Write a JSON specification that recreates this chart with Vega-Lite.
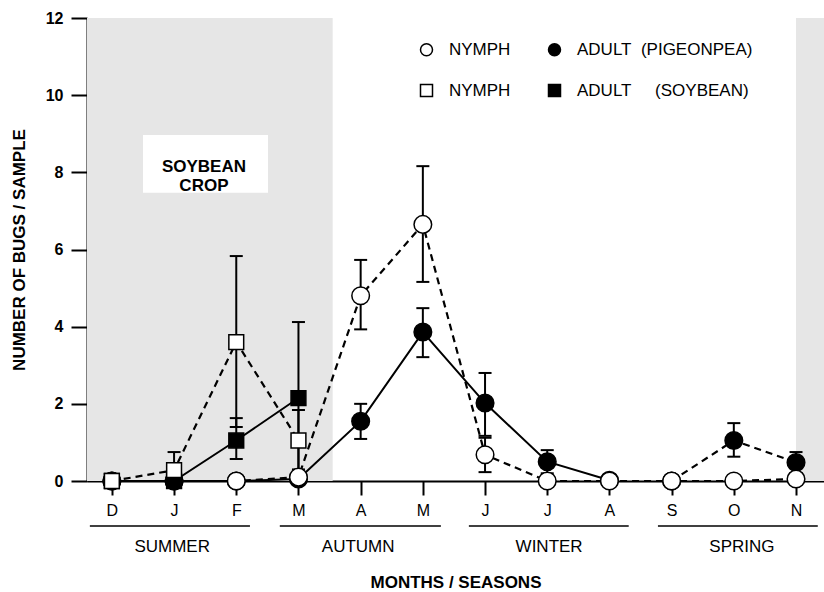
{
  "$schema": "https://vega.github.io/schema/vega-lite/v6.json",
  "width": 737,
  "height": 463,
  "autosize": {"type": "none"},
  "padding": {"left": 87, "top": 18, "right": 0, "bottom": 111},
  "background": "white",
  "config": {
    "view": {"stroke": null},
    "font": "Liberation Sans",
    "axis": {"grid": false, "domainColor": "black", "domainWidth": 2, "tickColor": "black", "tickWidth": 2, "labelColor": "black", "titleColor": "black", "labelFont": "Liberation Sans", "titleFont": "Liberation Sans"}
  },
  "datasets": {
    "bugs": [
      {"i": 0, "series": "AP", "v": 0},
      {"i": 1, "series": "AP", "v": 0},
      {"i": 2, "series": "AP", "v": 0},
      {"i": 3, "series": "AP", "v": 0.05},
      {"i": 4, "series": "AP", "v": 1.55, "lo": 1.09, "hi": 2.0},
      {"i": 5, "series": "AP", "v": 3.86, "lo": 3.21, "hi": 4.48},
      {"i": 6, "series": "AP", "v": 2.02, "lo": 1.17, "hi": 2.8},
      {"i": 7, "series": "AP", "v": 0.5, "lo": 0.2, "hi": 0.8},
      {"i": 8, "series": "AP", "v": 0.02},
      {"i": 9, "series": "AP", "v": 0},
      {"i": 10, "series": "AP", "v": 1.05, "lo": 0.63, "hi": 1.5},
      {"i": 11, "series": "AP", "v": 0.48, "lo": 0.2, "hi": 0.75},
      {"i": 0, "series": "AS", "v": 0},
      {"i": 1, "series": "AS", "v": 0},
      {"i": 2, "series": "AS", "v": 1.05, "lo": 0.57, "hi": 1.63},
      {"i": 3, "series": "AS", "v": 2.15, "lo": 0.15, "hi": 4.12},
      {"i": 0, "series": "NS", "v": 0},
      {"i": 1, "series": "NS", "v": 0.28, "lo": 0.05, "hi": 0.75},
      {"i": 2, "series": "NS", "v": 3.6, "lo": 1.4, "hi": 5.83},
      {"i": 3, "series": "NS", "v": 1.05, "lo": 0.3, "hi": 1.84},
      {"i": 0, "series": "NP", "v": 0},
      {"i": 1, "series": "NP", "v": 0},
      {"i": 2, "series": "NP", "v": 0},
      {"i": 3, "series": "NP", "v": 0.1},
      {"i": 4, "series": "NP", "v": 4.8, "lo": 3.93, "hi": 5.73},
      {"i": 5, "series": "NP", "v": 6.65, "lo": 5.16, "hi": 8.16},
      {"i": 6, "series": "NP", "v": 0.68, "lo": 0.23, "hi": 1.12},
      {"i": 7, "series": "NP", "v": 0},
      {"i": 8, "series": "NP", "v": 0},
      {"i": 9, "series": "NP", "v": 0},
      {"i": 10, "series": "NP", "v": 0},
      {"i": 11, "series": "NP", "v": 0.05}
    ],
    "shades": [
      {"x1": -0.4, "x2": 3.55, "y1": 0, "y2": 12},
      {"x1": 11.0, "x2": 11.45, "y1": 0, "y2": 12}
    ],
    "box": [
      {"x1": 0.5, "x2": 2.51, "y1": 7.47, "y2": 8.97, "label": "SOYBEAN\nCROP", "xc": 1.48, "yc": 8.15}
    ],
    "seasons": [
      {"season": "SUMMER", "x1": -0.354, "x2": 2.22, "xc": 0.97},
      {"season": "AUTUMN", "x1": 2.7, "x2": 5.29, "xc": 3.96},
      {"season": "WINTER", "x1": 5.74, "x2": 8.31, "xc": 7.03},
      {"season": "SPRING", "x1": 8.78, "x2": 11.35, "xc": 10.13}
    ]
  },
  "layer": [
    {
      "data": {"name": "shades"},
      "mark": {"type": "rect", "fill": "#e6e6e6"},
      "encoding": {
        "x": {"field": "x1", "type": "quantitative",
          "scale": {"domain": [-0.4, 11.45], "nice": false, "zero": false},
          "axis": {"values": [0,1,2,3,4,5,6,7,8,9,10,11], "labelExpr": "substring('DJFMAMJJASON', datum.value, datum.value + 1)",
            "labelFontSize": 16, "labelPadding": 7, "tickSize": 14, "title": "MONTHS / SEASONS", "titleFontSize": 17, "titleFontWeight": "bold", "titlePadding": 56}},
        "x2": {"field": "x2"},
        "y": {"field": "y1", "type": "quantitative",
          "scale": {"domain": [0, 12], "nice": false, "zero": true},
          "axis": {"values": [0,2,4,6,8,10,12], "labelFontSize": 16, "labelFontWeight": "bold", "labelPadding": 8, "tickSize": 16, "title": "NUMBER OF BUGS / SAMPLE", "titleFontSize": 17, "titleFontWeight": "bold", "titlePadding": 17}},
        "y2": {"field": "y2"}
      }
    },
    {
      "data": {"name": "box"},
      "mark": {"type": "rect", "fill": "white"},
      "encoding": {
        "x": {"field": "x1", "type": "quantitative"},
        "x2": {"field": "x2"},
        "y": {"field": "y1", "type": "quantitative"},
        "y2": {"field": "y2"}
      }
    },
    {
      "data": {"name": "box"},
      "mark": {"type": "text", "fontSize": 17, "fontWeight": "bold", "align": "center", "baseline": "middle", "lineBreak": "\n", "lineHeight": 19, "color": "black"},
      "encoding": {
        "x": {"field": "xc", "type": "quantitative"},
        "y": {"field": "yc", "type": "quantitative"},
        "text": {"field": "label"}
      }
    },
    {
      "mark": {"type": "rule", "color": "black", "strokeWidth": 1.5},
      "encoding": {"x": {"datum": 3.55}, "y": {"datum": 0}, "y2": {"datum": 12}}
    },
    {
      "mark": {"type": "rule", "color": "#888888", "strokeWidth": 1.5},
      "encoding": {"x": {"datum": 11.0}, "y": {"datum": 0}, "y2": {"datum": 12}}
    },
    {
      "mark": {"type": "rule", "color": "black", "strokeWidth": 2},
      "encoding": {"y": {"datum": 12}}
    },
    {
      "data": {"name": "bugs"},
      "transform": [{"filter": "datum.series == 'NP'"}],
      "mark": {"type": "line", "color": "black", "strokeWidth": 2.2, "strokeDash": [7, 5]},
      "encoding": {"x": {"field": "i", "type": "quantitative"}, "y": {"field": "v", "type": "quantitative"}}
    },
    {
      "data": {"name": "bugs"},
      "transform": [{"filter": "datum.series == 'AP' && datum.i <= 8"}],
      "mark": {"type": "line", "color": "black", "strokeWidth": 2},
      "encoding": {"x": {"field": "i", "type": "quantitative"}, "y": {"field": "v", "type": "quantitative"}}
    },
    {
      "data": {"name": "bugs"},
      "transform": [{"filter": "datum.series == 'AP' && datum.i >= 9"}],
      "mark": {"type": "line", "color": "black", "strokeWidth": 2.2, "strokeDash": [7, 5]},
      "encoding": {"x": {"field": "i", "type": "quantitative"}, "y": {"field": "v", "type": "quantitative"}}
    },
    {
      "data": {"name": "bugs"},
      "transform": [{"filter": "datum.series == 'NS'"}],
      "mark": {"type": "line", "color": "black", "strokeWidth": 2.2, "strokeDash": [7, 5]},
      "encoding": {"x": {"field": "i", "type": "quantitative"}, "y": {"field": "v", "type": "quantitative"}}
    },
    {
      "data": {"name": "bugs"},
      "transform": [{"filter": "datum.series == 'AS'"}],
      "mark": {"type": "line", "color": "black", "strokeWidth": 2},
      "encoding": {"x": {"field": "i", "type": "quantitative"}, "y": {"field": "v", "type": "quantitative"}}
    },
    {
      "data": {"name": "bugs"},
      "transform": [{"filter": "isValid(datum.lo)"}],
      "mark": {"type": "rule", "color": "black", "strokeWidth": 2},
      "encoding": {"x": {"field": "i", "type": "quantitative"}, "y": {"field": "lo", "type": "quantitative"}, "y2": {"field": "hi"}}
    },
    {
      "data": {"name": "bugs"},
      "transform": [{"filter": "isValid(datum.lo)"}],
      "mark": {"type": "tick", "orient": "horizontal", "color": "black", "size": 13, "thickness": 2, "opacity": 1},
      "encoding": {"x": {"field": "i", "type": "quantitative"}, "y": {"field": "lo", "type": "quantitative"}}
    },
    {
      "data": {"name": "bugs"},
      "transform": [{"filter": "isValid(datum.hi)"}],
      "mark": {"type": "tick", "orient": "horizontal", "color": "black", "size": 13, "thickness": 2, "opacity": 1},
      "encoding": {"x": {"field": "i", "type": "quantitative"}, "y": {"field": "hi", "type": "quantitative"}}
    },
    {
      "data": {"name": "bugs"},
      "transform": [{"filter": "datum.series == 'AP' || datum.series == 'NP'"}],
      "mark": {"type": "point", "filled": true, "strokeWidth": 1.5, "opacity": 1, "size": 310},
      "encoding": {
        "x": {"field": "i", "type": "quantitative"},
        "y": {"field": "v", "type": "quantitative"},
        "shape": {"field": "series", "type": "nominal",
          "scale": {"domain": ["NP", "NS", "AP", "AS"], "range": ["circle", "square", "circle", "square"]},
          "legend": {"orient": "none", "legendX": 331, "legendY": 23, "columns": 2, "direction": "vertical", "title": null,
            "labelExpr": "datum.value == 'AP' ? 'ADULT\u00a0\u00a0(PIGEONPEA)' : datum.value == 'AS' ? 'ADULT\u00a0\u00a0\u00a0\u00a0\u00a0(SOYBEAN)' : 'NYMPH'",
            "labelFontSize": 17, "labelColor": "black", "labelFont": "Liberation Sans", "labelOffset": 14, "labelLimit": 400, "symbolSize": 144,
            "symbolStrokeWidth": 1.5, "rowPadding": 22, "columnPadding": 34, "symbolOpacity": 1}},
        "fill": {"field": "series", "type": "nominal",
          "scale": {"domain": ["NP", "NS", "AP", "AS"], "range": ["white", "white", "black", "black"]}},
        "stroke": {"field": "series", "type": "nominal",
          "scale": {"domain": ["NP", "NS", "AP", "AS"], "range": ["black", "black", "black", "black"]}}
      }
    },
    {
      "data": {"name": "bugs"},
      "transform": [{"filter": "datum.series == 'AS' || datum.series == 'NS'"}],
      "mark": {"type": "point", "filled": true, "strokeWidth": 1.5, "opacity": 1, "size": 220},
      "encoding": {
        "x": {"field": "i", "type": "quantitative"},
        "y": {"field": "v", "type": "quantitative"},
        "shape": {"field": "series", "type": "nominal"},
        "fill": {"field": "series", "type": "nominal"},
        "stroke": {"field": "series", "type": "nominal"}
      }
    },
    {
      "data": {"name": "seasons"},
      "mark": {"type": "rule", "color": "black", "strokeWidth": 1.5},
      "encoding": {"x": {"field": "x1", "type": "quantitative"}, "x2": {"field": "x2"}, "y": {"datum": -1.166}}
    },
    {
      "data": {"name": "seasons"},
      "mark": {"type": "text", "fontSize": 17, "color": "black", "align": "center", "baseline": "middle"},
      "encoding": {"x": {"field": "xc", "type": "quantitative"}, "y": {"datum": -1.71}, "text": {"field": "season"}}
    }
  ]
}
